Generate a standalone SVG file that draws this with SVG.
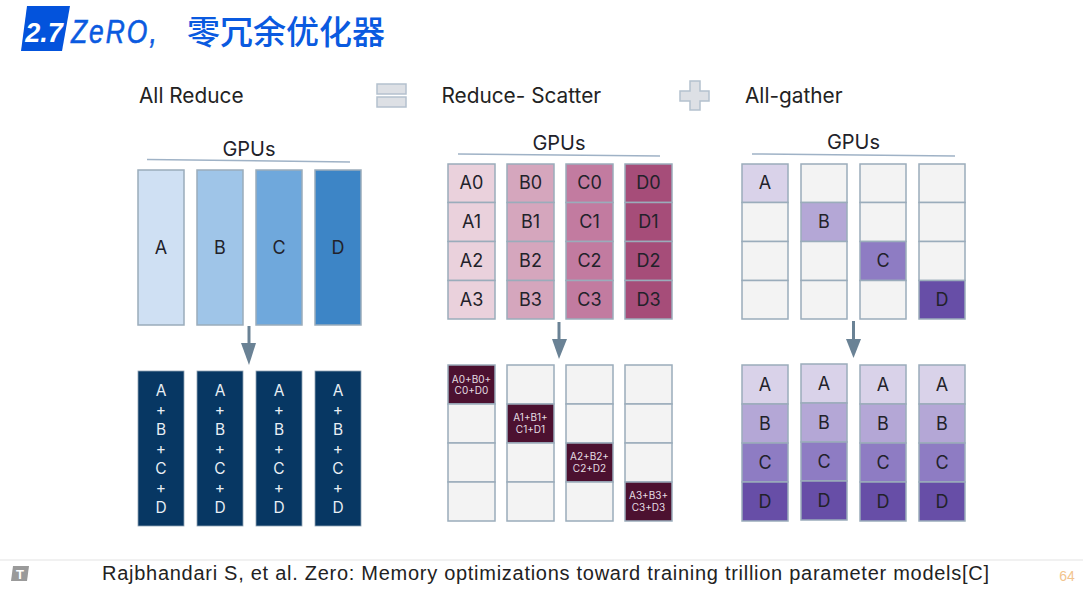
<svg xmlns="http://www.w3.org/2000/svg" width="1083" height="589" viewBox="0 0 1083 589">
<defs><style>
text{font-family:"Inter","Liberation Sans",sans-serif;fill:#22222a;text-anchor:middle}
.h{font-size:20.800px;text-anchor:start;fill:#222}
.g{font-size:20px}
.t{font-size:18px}
.s{font-size:10px;fill:#e4dde2}
.w{font-size:15.500px;fill:#e8eef4}
rect.c{stroke:#9aacbb;stroke-width:1.500}
rect.n{fill:#073763;stroke:#8fa2b3;stroke-width:.8}
.e{fill:#f3f3f3}
.l{stroke:#9fb2c6;stroke-width:1.500;fill:none}
.a{stroke:#6a8295;stroke-width:3;fill:none}
.ah{fill:#6a8295}
</style></defs>
<rect width="1083" height="589" fill="#fff"/>
<g id="title">
<polygon points="27,6 70,6 62,51 21,51" fill="#0353dc"/>
<text x="44" y="42" style="font-family:'Liberation Sans',sans-serif;font-size:27px;font-style:italic;font-weight:bold;fill:#fff">2.7</text>
<text transform="translate(71 43) scale(.8 1)" style="font-family:'Liberation Sans',sans-serif;font-size:33px;font-style:italic;fill:#0a5ae0;text-anchor:start;letter-spacing:2.500px;stroke:#0a5ae0;stroke-width:.6">ZeRO,</text>
<text x="187" y="44" style="font-family:'Noto Sans CJK SC',sans-serif;font-size:33px;font-weight:500;fill:#0a5ae0;text-anchor:start" textLength="198">零冗余优化器</text>
</g>
<g id="headers">
<text class="h" x="139" y="102.500">All Reduce</text>
<text class="h" x="441.500" y="102.500">Reduce- Scatter</text>
<text class="h" x="745" y="102.500">All-gather</text>
<g id="equals-icon"><rect x="377" y="84" width="29" height="10" fill="#dde0e5" stroke="#b4c1ce" stroke-width="1.500"/><rect x="377" y="97" width="29" height="10" fill="#dde0e5" stroke="#b4c1ce" stroke-width="1.500"/></g>
<path id="plus-icon" d="M690 81h10v10h9v10h-9v9h-10v-9h-10v-10h10z" fill="#dde0e5" stroke="#b4c1ce" stroke-width="1.500"/>
</g>
<g id="connectors">
<path class="l" d="M147 159.500L350 162"/><path class="l" d="M458 154L660 156"/><path class="l" d="M752 154L955 156"/>
<path class="a" d="M249 326V348"/><polygon class="ah" points="241,343 256,343 249,365"/>
<path class="a" d="M559 322V344"/><polygon class="ah" points="552,339 567,339 559,359"/>
<path class="a" d="M853.500 321V343"/><polygon class="ah" points="846,339 861,339 853.500,358"/>
</g>
<g id="allreduce-top">
<g id="ar-a"><rect class="c" x="138" y="170" width="46" height="155" fill="#cfe0f3"/><text class="t" x="161" y="254">A</text></g>
<g id="ar-b"><rect class="c" x="197" y="170" width="46" height="155" fill="#9fc5e8"/><text class="t" x="220" y="254">B</text></g>
<g id="ar-c"><rect class="c" x="256" y="170" width="46" height="155" fill="#6fa8dc"/><text class="t" x="279" y="254">C</text></g>
<g id="ar-d"><rect class="c" x="315" y="170" width="46" height="155" fill="#3d85c6"/><text class="t" x="338" y="254">D</text></g>
<text class="g" x="249" y="155.500">GPUs</text>
</g>
<g id="allreduce-bottom">
<g id="arb-1"><rect class="n" x="138" y="371" width="46" height="155"/><text class="w" x="161" y="396">A</text><text class="w" x="161" y="415">+</text><text class="w" x="161" y="435">B</text><text class="w" x="161" y="454">+</text><text class="w" x="161" y="474">C</text><text class="w" x="161" y="493">+</text><text class="w" x="161" y="513">D</text></g>
<g id="arb-2"><rect class="n" x="197" y="371" width="46" height="155"/><text class="w" x="220" y="396">A</text><text class="w" x="220" y="415">+</text><text class="w" x="220" y="435">B</text><text class="w" x="220" y="454">+</text><text class="w" x="220" y="474">C</text><text class="w" x="220" y="493">+</text><text class="w" x="220" y="513">D</text></g>
<g id="arb-3"><rect class="n" x="256" y="371" width="46" height="155"/><text class="w" x="279" y="396">A</text><text class="w" x="279" y="415">+</text><text class="w" x="279" y="435">B</text><text class="w" x="279" y="454">+</text><text class="w" x="279" y="474">C</text><text class="w" x="279" y="493">+</text><text class="w" x="279" y="513">D</text></g>
<g id="arb-4"><rect class="n" x="315" y="371" width="46" height="155"/><text class="w" x="338" y="396">A</text><text class="w" x="338" y="415">+</text><text class="w" x="338" y="435">B</text><text class="w" x="338" y="454">+</text><text class="w" x="338" y="474">C</text><text class="w" x="338" y="493">+</text><text class="w" x="338" y="513">D</text></g>
</g>
<g id="scatter-top">
<text class="g" x="559" y="150">GPUs</text>
<g id="s-a"><rect class="c" x="448" y="164" width="47" height="38.500" fill="#ead1dc"/><rect class="c" x="448" y="202.500" width="47" height="39" fill="#ead1dc"/><rect class="c" x="448" y="241.500" width="47" height="39" fill="#ead1dc"/><rect class="c" x="448" y="280.500" width="47" height="38.500" fill="#ead1dc"/><text class="t" x="471.500" y="189">A0</text><text class="t" x="471.500" y="228">A1</text><text class="t" x="471.500" y="267">A2</text><text class="t" x="471.500" y="306">A3</text></g>
<g id="s-b"><rect class="c" x="507" y="164" width="47" height="38.500" fill="#d5a6bd"/><rect class="c" x="507" y="202.500" width="47" height="39" fill="#d5a6bd"/><rect class="c" x="507" y="241.500" width="47" height="39" fill="#d5a6bd"/><rect class="c" x="507" y="280.500" width="47" height="38.500" fill="#d5a6bd"/><text class="t" x="530.500" y="189">B0</text><text class="t" x="530.500" y="228">B1</text><text class="t" x="530.500" y="267">B2</text><text class="t" x="530.500" y="306">B3</text></g>
<g id="s-c"><rect class="c" x="566" y="164" width="47" height="38.500" fill="#c27ba0"/><rect class="c" x="566" y="202.500" width="47" height="39" fill="#c27ba0"/><rect class="c" x="566" y="241.500" width="47" height="39" fill="#c27ba0"/><rect class="c" x="566" y="280.500" width="47" height="38.500" fill="#c27ba0"/><text class="t" x="589.500" y="189">C0</text><text class="t" x="589.500" y="228">C1</text><text class="t" x="589.500" y="267">C2</text><text class="t" x="589.500" y="306">C3</text></g>
<g id="s-d"><rect class="c" x="625" y="164" width="47" height="38.500" fill="#a64d79"/><rect class="c" x="625" y="202.500" width="47" height="39" fill="#a64d79"/><rect class="c" x="625" y="241.500" width="47" height="39" fill="#a64d79"/><rect class="c" x="625" y="280.500" width="47" height="38.500" fill="#a64d79"/><text class="t" x="648.500" y="189">D0</text><text class="t" x="648.500" y="228">D1</text><text class="t" x="648.500" y="267">D2</text><text class="t" x="648.500" y="306">D3</text></g>
</g>
<g id="scatter-bottom">
<g id="sb-a"><rect class="c" x="448" y="365" width="47" height="39" fill="#4c1130"/><rect class="c e" x="448" y="404" width="47" height="39"/><rect class="c e" x="448" y="443" width="47" height="39"/><rect class="c e" x="448" y="482" width="47" height="39"/><text class="s" x="471.500" y="382.500">A0+B0+</text><text class="s" x="471.500" y="394">C0+D0</text></g>
<g id="sb-b"><rect class="c e" x="507" y="365" width="47" height="39"/><rect class="c" x="507" y="404" width="47" height="39" fill="#4c1130"/><rect class="c e" x="507" y="443" width="47" height="39"/><rect class="c e" x="507" y="482" width="47" height="39"/><text class="s" x="530.500" y="421">A1+B1+</text><text class="s" x="530.500" y="433">C1+D1</text></g>
<g id="sb-c"><rect class="c e" x="566" y="365" width="47" height="39"/><rect class="c e" x="566" y="404" width="47" height="39"/><rect class="c" x="566" y="443" width="47" height="39" fill="#4c1130"/><rect class="c e" x="566" y="482" width="47" height="39"/><text class="s" x="589.500" y="460">A2+B2+</text><text class="s" x="589.500" y="472">C2+D2</text></g>
<g id="sb-d"><rect class="c e" x="625" y="365" width="47" height="39"/><rect class="c e" x="625" y="404" width="47" height="39"/><rect class="c e" x="625" y="443" width="47" height="39"/><rect class="c" x="625" y="482" width="47" height="39" fill="#4c1130"/><text class="s" x="648.500" y="499">A3+B3+</text><text class="s" x="648.500" y="511">C3+D3</text></g>
</g>
<g id="gather-top">
<text class="g" x="853.500" y="149">GPUs</text>
<g id="g-a"><rect class="c" x="742" y="164" width="46" height="38.500" fill="#d9d2e9"/><rect class="c e" x="742" y="202.500" width="46" height="39"/><rect class="c e" x="742" y="241.500" width="46" height="39"/><rect class="c e" x="742" y="280.500" width="46" height="38.500"/><text class="t" x="765" y="189">A</text></g>
<g id="g-b"><rect class="c e" x="801" y="164" width="46" height="38.500"/><rect class="c" x="801" y="202.500" width="46" height="39" fill="#b4a7d6"/><rect class="c e" x="801" y="241.500" width="46" height="39"/><rect class="c e" x="801" y="280.500" width="46" height="38.500"/><text class="t" x="824" y="228">B</text></g>
<g id="g-c"><rect class="c e" x="860" y="164" width="46" height="38.500"/><rect class="c e" x="860" y="202.500" width="46" height="39"/><rect class="c" x="860" y="241.500" width="46" height="39" fill="#8e7cc3"/><rect class="c e" x="860" y="280.500" width="46" height="38.500"/><text class="t" x="883" y="267">C</text></g>
<g id="g-d"><rect class="c e" x="919" y="164" width="46" height="38.500"/><rect class="c e" x="919" y="202.500" width="46" height="39"/><rect class="c e" x="919" y="241.500" width="46" height="39"/><rect class="c" x="919" y="280.500" width="46" height="38.500" fill="#674ea7"/><text class="t" x="942" y="306">D</text></g>
</g>
<g id="gather-bottom">
<g id="gb-1"><rect class="c" x="742" y="365" width="46" height="39" fill="#d9d2e9"/><rect class="c" x="742" y="404" width="46" height="39" fill="#b4a7d6"/><rect class="c" x="742" y="443" width="46" height="39" fill="#8e7cc3"/><rect class="c" x="742" y="482" width="46" height="39" fill="#674ea7"/><text class="t" x="765" y="391">A</text><text class="t" x="765" y="430">B</text><text class="t" x="765" y="469">C</text><text class="t" x="765" y="508">D</text></g>
<g id="gb-2"><rect class="c" x="801" y="364" width="46" height="39" fill="#d9d2e9"/><rect class="c" x="801" y="403" width="46" height="39" fill="#b4a7d6"/><rect class="c" x="801" y="442" width="46" height="39" fill="#8e7cc3"/><rect class="c" x="801" y="481" width="46" height="39" fill="#674ea7"/><text class="t" x="824" y="390">A</text><text class="t" x="824" y="429">B</text><text class="t" x="824" y="468">C</text><text class="t" x="824" y="507">D</text></g>
<g id="gb-3"><rect class="c" x="860" y="365" width="46" height="39" fill="#d9d2e9"/><rect class="c" x="860" y="404" width="46" height="39" fill="#b4a7d6"/><rect class="c" x="860" y="443" width="46" height="39" fill="#8e7cc3"/><rect class="c" x="860" y="482" width="46" height="39" fill="#674ea7"/><text class="t" x="883" y="391">A</text><text class="t" x="883" y="430">B</text><text class="t" x="883" y="469">C</text><text class="t" x="883" y="508">D</text></g>
<g id="gb-4"><rect class="c" x="919" y="365" width="46" height="39" fill="#d9d2e9"/><rect class="c" x="919" y="404" width="46" height="39" fill="#b4a7d6"/><rect class="c" x="919" y="443" width="46" height="39" fill="#8e7cc3"/><rect class="c" x="919" y="482" width="46" height="39" fill="#674ea7"/><text class="t" x="942" y="391">A</text><text class="t" x="942" y="430">B</text><text class="t" x="942" y="469">C</text><text class="t" x="942" y="508">D</text></g>
</g>
<g id="footer">
<line x1="0" y1="560" x2="1083" y2="560" stroke="#ececec" stroke-width="1.500"/>
<polygon points="13,566 29,566 27,581 11,581" fill="#9a9a9a"/>
<text x="20" y="579" style="font-family:'Liberation Sans',sans-serif;font-size:13px;font-weight:bold;fill:#fff">T</text>
<text x="102" y="580" style="font-family:'Liberation Sans',sans-serif;font-size:20px;text-anchor:start;fill:#222" textLength="887">Rajbhandari S, et al. Zero: Memory optimizations toward training trillion parameter models[C]</text>
<text x="1067" y="581" style="font-family:'Liberation Sans',sans-serif;font-size:14px;fill:#f2c48d">64</text>
</g>
</svg>
